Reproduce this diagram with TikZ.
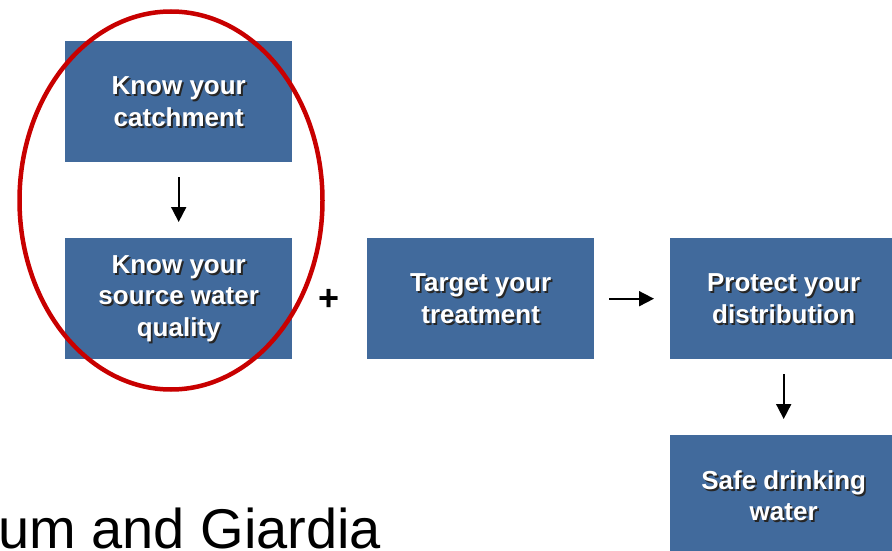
\documentclass[tikz,border=0pt]{standalone}
\usepackage{fontspec}
\setmainfont{Liberation Sans}
\usetikzlibrary{arrows.meta,calc}
\definecolor{boxblue}{RGB}{65,106,156}
\definecolor{ringred}{RGB}{200,0,0}
\newcommand\labelledbox[4]{%
  \node[stepbox] (#1) at (#2,#3) {};
  \node[shadowtext] (#1s) at ($(#1.center)+(1.8,1.8)$) {#4};
  \node[boxtext] (#1t) at (#1.center) {#4};
}
\begin{document}
\begin{tikzpicture}[x=1pt,y=-1pt,
  stepbox/.style={fill=boxblue, draw=none, minimum width=227pt, minimum height=121pt, inner sep=0pt, anchor=north west},
  boxtext/.style={text=white, font=\bfseries\fontsize{26}{31.5}\selectfont, align=center, inner sep=0pt},
  shadowtext/.style={boxtext, text=black!85},
  flow/.style={line width=1.8pt, -{Triangle[length=15pt,width=15pt]}, shorten <=15pt, shorten >=16pt}]
\useasboundingbox (0,0) rectangle (892,551);
\clip (0,0) rectangle (892,551);
\labelledbox{b1}{65}{41}{Know your\\catchment}
\labelledbox{b2}{65}{238}{Know your\\source water\\quality}
\labelledbox{b3}{367}{238}{Target your\\treatment}
\labelledbox{b4}{670}{238}{Protect your\\distribution}
\labelledbox{b5}{670}{435}{Safe drinking\\water}
\draw[flow] (b1.south) -- (b2.north);
\draw[flow] (b3.east) -- (b4.west);
\draw[flow] (b4.south) -- (b5.north);
\node[font=\bfseries\fontsize{36}{36}\selectfont, inner sep=0pt] (plus) at (329,300) {+};
\node[font=\fontsize{56}{56}\selectfont, anchor=base west, inner sep=0pt] (caption) at (-2,548) {um and Giardia};
\draw[ringred, line width=4.5pt] (171,200.5) ellipse [x radius=151.5pt, y radius=189pt];
\end{tikzpicture}
\end{document}
